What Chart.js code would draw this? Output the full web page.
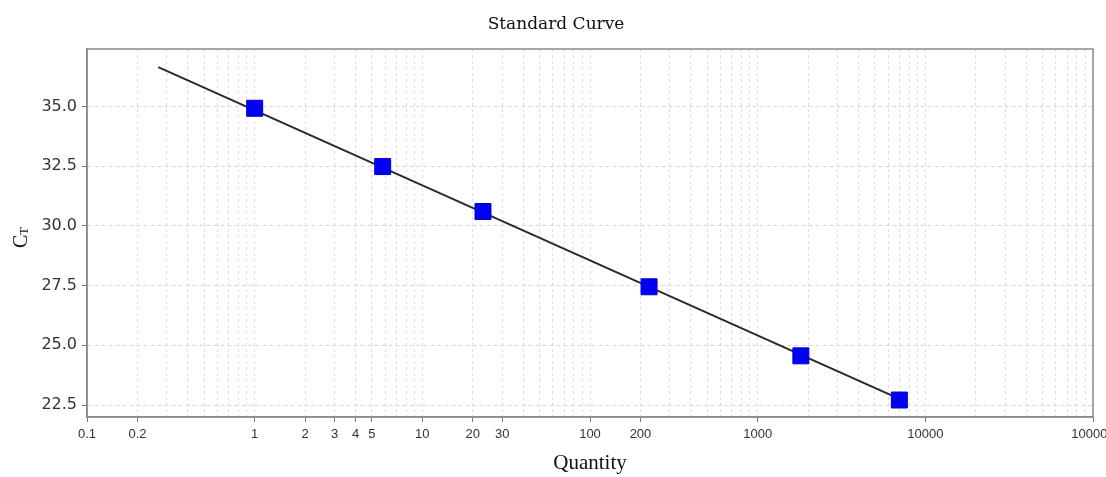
<!DOCTYPE html>
<html><head><meta charset="utf-8">
<script src="https://cdn.jsdelivr.net/npm/chart.js@4"></script>
<style>html,body{margin:0;padding:0;background:#fff}#wrap{width:1106px;height:477px}</style>
</head><body><div id="wrap"><canvas id="c" width="1106" height="477"></canvas></div>
<script>
const quantities = [1, 5.8, 23, 225, 1810, 7000];
const ctValues = [34.92, 32.48, 30.6, 27.45, 24.56, 22.71];
const fitX = [0.266, 7000];
const fitY = [36.64, 22.76];
const yTicks = [22.5, 25.0, 27.5, 30.0, 32.5, 35.0];
const xLabeled = [0.1, 0.2, 1, 2, 3, 4, 5, 10, 20, 30, 100, 200, 1000, 10000, 100000];
const xGrid = [];
for (let e = -1; e < 5; e++) for (let m = 1; m < 10; m++) xGrid.push(+(m * Math.pow(10, e)).toPrecision(3));
xGrid.push(100000);

const frame = {
  id: 'frame',
  afterDraw(chart) {
    const {ctx, chartArea: a} = chart;
    ctx.save();
    ctx.strokeStyle = '#8a8a8a';
    ctx.lineWidth = 1.5;
    ctx.strokeRect(a.left, a.top, a.right - a.left, a.bottom - a.top);
    ctx.fillStyle = '#111';
    ctx.textAlign = 'center';
    ctx.textBaseline = 'middle';
    ctx.font = '17px "DejaVu Serif", "Liberation Serif", serif';
    ctx.fillText('Standard Curve', 556, 25);
    ctx.font = '21px "Liberation Serif", "DejaVu Serif", serif';
    ctx.fillText('Quantity', 590, 463);
    ctx.translate(22, 238);
    ctx.rotate(-Math.PI / 2);
    ctx.textAlign = 'left';
    ctx.font = '20px "Liberation Serif", "DejaVu Serif", serif';
    ctx.fillText('C', -10, 0);
    ctx.font = '13px "Liberation Serif", "DejaVu Serif", serif';
    ctx.fillText('T', 3, 3);
    ctx.restore();
  }
};

new Chart(document.getElementById('c'), {
  type: 'scatter',
  data: {
    datasets: [
      {
        label: 'Fit',
        type: 'line',
        data: fitX.map((x, i) => ({x, y: fitY[i]})),
        borderColor: '#2a2a2a',
        borderWidth: 2,
        pointRadius: 0,
        fill: false,
        order: 2
      },
      {
        label: 'Standards',
        data: quantities.map((x, i) => ({x, y: ctValues[i]})),
        backgroundColor: '#0000f5',
        borderColor: '#0000c8',
        borderWidth: 1,
        pointStyle: 'rect',
        pointRadius: 11.3,
        pointHoverRadius: 11.3,
        order: 1
      }
    ]
  },
  options: {
    responsive: false,
    animation: false,
    events: [],
    layout: {padding: {top: 49, right: 13, left: 0, bottom: 0}},
    plugins: {legend: {display: false}, title: {display: false}, tooltip: {enabled: false}},
    scales: {
      x: {
        type: 'logarithmic',
        min: 0.1,
        max: 100000,
        afterBuildTicks: s => { s.ticks = xGrid.map(v => ({value: v})); },
        afterFit: s => { s.height = 60; s.paddingLeft = 0; s.paddingRight = 0; },
        ticks: {
          autoSkip: false,
          maxRotation: 0,
          padding: 5,
          color: '#333',
          font: {family: '"Liberation Sans Narrow", "Liberation Sans", Arial, sans-serif', size: 13},
          callback: v => xLabeled.some(l => Math.abs(l - v) / l < 1e-6) ? String(v) : ''
        },
        grid: {
          color: '#dedede',
          lineWidth: 1,
          tickLength: 5,
          tickColor: c => (c.tick && xLabeled.some(l => Math.abs(l - c.tick.value) / l < 1e-6)) ? '#777' : 'rgba(0,0,0,0)'
        },
        border: {display: true, color: '#8a8a8a', width: 1.5, dash: [3, 3]}
      },
      y: {
        min: 22.0,
        max: 37.4,
        afterBuildTicks: s => { s.ticks = yTicks.map(v => ({value: v})); },
        afterFit: s => { s.width = 87; s.paddingTop = 0; s.paddingBottom = 0; },
        ticks: {
          padding: 5,
          color: '#333',
          font: {family: '"DejaVu Sans", "Liberation Sans", sans-serif', size: 16},
          callback: v => Number(v).toFixed(1)
        },
        grid: {color: '#d6d6d6', lineWidth: 1, tickLength: 5, tickColor: '#777'},
        border: {display: true, color: '#8a8a8a', width: 1.5, dash: [4, 3]}
      }
    }
  },
  plugins: [frame]
});
</script>
</body></html>
